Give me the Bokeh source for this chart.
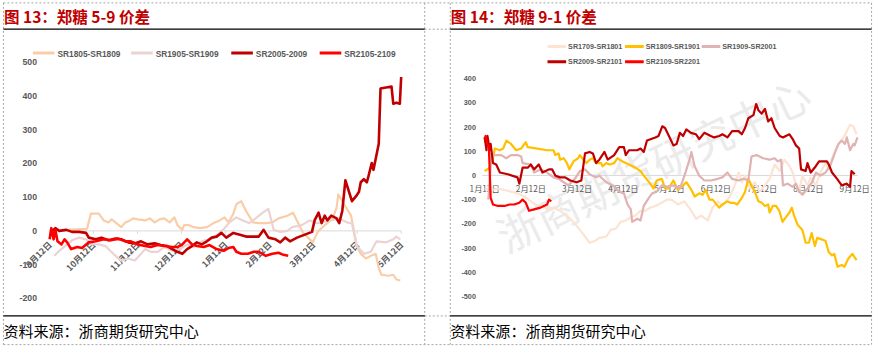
import math
from bokeh.plotting import figure
from bokeh.models import Range1d
from bokeh.embed import file_html
from bokeh.resources import INLINE
from bokeh.core.properties import value

# ---------------- texts ----------------
left_title = "图 13：郑糖 5-9 价差"
right_title = "图 14：郑糖 9-1 价差"
source_text = "资料来源：浙商期货研究中心"
watermark_text = "浙商期货研究中心"

# ---------------- left chart (5-9 spread) ----------------
left_names = ["SR1805-SR1809", "SR1905-SR1909", "SR2005-2009", "SR2105-2109"]
left_colors = ["#F9CDA8", "#EBD3D3", "#C00000", "#FF0000"]
left_x_labels = ["9月12日", "10月12日", "11月12日", "12月12日", "1月12日",
                 "2月12日", "3月12日", "4月12日", "5月12日"]
left_y_ticks = [500, 400, 300, 200, 100, 0, -100, -200]

sr1805_m = [0.33, 0.85, 0.94, 1.12, 1.23, 1.34, 1.41, 1.52, 1.63, 1.72,
            1.83, 1.90, 2.01, 2.17, 2.28, 2.39, 2.50, 2.61, 2.73, 2.84,
            2.91, 3.02, 3.06, 3.17, 3.28, 3.42, 3.58, 3.73, 3.87, 3.98,
            4.07, 4.18, 4.25, 4.36, 4.47, 4.63, 4.76, 4.92, 5.07, 5.21,
            5.41, 5.54, 5.65, 5.77, 5.88, 5.99, 6.10, 6.21, 6.32, 6.44,
            6.53, 6.57, 6.66, 6.75, 6.86, 6.93, 6.99, 7.08, 7.20, 7.31,
            7.42, 7.49, 7.55, 7.71, 7.82, 7.89, 7.98]
sr1805_v = [3, 6, 51, 51, 31, 25, 34, 23, 11, 25,
            31, 37, 34, 31, 37, 25, 34, 37, 25, 40,
            17, 3, 17, 17, 11, 8, 11, 23, 31, 40,
            25, 51, 79, 88, 59, 25, 23, 23, 25, 37,
            45, 54, 25, -6, -20, -34, -3, 11, 23, 37,
            68, 108, 88, 68, 45, -3, -45, -68, -82, -74,
            -68, -110, -130, -133, -130, -144, -147]

sr1905_m = [0.11, 0.22, 0.38, 0.51, 0.67, 0.83, 0.96, 1.12, 1.27, 1.45,
            1.63, 1.79, 1.94, 2.06, 2.17, 2.30, 2.46, 2.61, 2.79, 2.97,
            3.13, 3.28, 3.46, 3.62, 3.80, 3.98, 4.09, 4.25, 4.40, 4.54,
            4.69, 4.85, 4.98, 5.10, 5.25, 5.41, 5.52, 5.63, 5.74, 5.92,
            6.08, 6.19, 6.41, 6.59, 6.77, 6.88, 6.99, 7.15, 7.31, 7.44,
            7.66, 7.82, 7.89, 7.98]
sr1905_v = [-74, -59, -42, -28, -20, -25, -40, -40, -45, -68,
            -88, -82, -88, -71, -54, -62, -62, -48, -59, -54,
            -40, -48, -31, -25, -14, 8, 25, 40, 31, 23,
            37, 54, 65, 3, -3, 0, 11, 14, 17, 31,
            23, 25, 31, 37, 25, 22, -45, -68, -62, -31,
            -34, -25, -17, -25]

sr2005_m = [0.04, 0.13, 0.22, 0.38, 0.51, 0.67, 0.83, 0.89, 1.05, 1.18,
            1.34, 1.50, 1.63, 1.79, 1.94, 2.08, 2.23, 2.39, 2.53, 2.68,
            2.79, 2.91, 3.02, 3.13, 3.24, 3.35, 3.46, 3.58, 3.69, 3.80,
            3.91, 4.02, 4.18, 4.31, 4.47, 4.63, 4.76, 4.87, 4.98, 5.14,
            5.25, 5.36, 5.47, 5.63, 5.81, 5.97, 6.03, 6.12, 6.19, 6.26,
            6.32, 6.41, 6.53, 6.59, 6.66, 6.73, 6.88, 6.97, 7.04, 7.08,
            7.15, 7.22, 7.26, 7.33, 7.37, 7.49, 7.53, 7.78, 7.82, 7.89,
            7.97, 8.00]
sr2005_v = [-3, 8, 0, 3, -3, -3, -6, -20, -25, -20,
            -28, -23, -25, -34, -37, -31, -40, -37, -42, -45,
            -54, -62, -68, -54, -45, -34, -40, -31, -20, -17,
            -6, -20, -6, -11, -17, -17, -17, 3, -20, -25,
            -34, -20, -31, -20, -11, -3, 31, 54, 23, 45,
            31, 45, 37, 23, 59, 150, 88, 102, 116, 144,
            153, 144, 164, 201, 181, 258, 422, 428, 377, 380,
            377, 456]

sr2105_m = [0.00, 0.04, 0.09, 0.13, 0.18, 0.27, 0.34, 0.40, 0.49, 0.63,
            0.74, 0.89, 1.05, 1.23, 1.39, 1.56, 1.72, 1.85, 2.01, 2.17,
            2.30, 2.46, 2.61, 2.79, 2.91, 3.02, 3.13, 3.24, 3.35, 3.51,
            3.64, 3.80, 3.96, 4.07, 4.18, 4.25, 4.36, 4.51, 4.65, 4.76,
            4.92, 5.07, 5.21, 5.32, 5.43]
sr2105_v = [-25, 8, -25, 3, -31, -40, -25, -34, -54, -48,
            -51, -34, -31, -25, -28, -23, -31, -31, -40, -45,
            -48, -42, -45, -48, -48, -40, -25, -40, -45, -48,
            -42, -54, -59, -51, -48, -62, -68, -68, -62, -62,
            -74, -68, -65, -71, -74]

# ---------------- right chart (9-1 spread) ----------------
right_names = ["SR1709-SR1801", "SR1809-SR1901", "SR1909-SR2001",
               "SR2009-SR2101", "SR2109-SR2201"]
right_colors = ["#FCE3D3", "#FFC000", "#E0B2B2", "#C00000", "#FF0000"]
right_x_labels = ["1月12日", "2月12日", "3月12日", "4月12日", "5月12日",
                  "6月12日", "7月12日", "8月12日", "9月12日"]
right_y_ticks = [400, 300, 200, 100, 0, -100, -200, -300, -400, -500]

sr1709_m = [0.00, 0.15, 0.29, 0.43, 0.57, 0.71, 0.86, 1.00, 1.14, 1.25,
            1.35, 1.49, 1.63, 1.78, 1.92, 2.06, 2.17, 2.27, 2.38, 2.48,
            2.63, 2.73, 2.84, 2.94, 3.05, 3.16, 3.26, 3.37, 3.47, 3.58,
            3.69, 3.83, 3.94, 4.04, 4.18, 4.32, 4.47, 4.57, 4.68, 4.82,
            4.93, 5.04, 5.14, 5.21, 5.28, 5.35, 5.42, 5.49, 5.56, 5.63,
            5.74, 5.84, 5.95, 6.06, 6.16, 6.27, 6.38, 6.48, 6.59, 6.66,
            6.73, 6.80, 6.87, 6.98, 7.05, 7.16, 7.26, 7.37, 7.44, 7.51,
            7.61, 7.68, 7.76, 7.83, 7.90, 7.97, 8.04]
sr1709_v = [-54, -60, -54, -60, -67, -74, -87, -107, -126, -120,
            -140, -133, -146, -166, -192, -225, -252, -278, -271, -258,
            -252, -225, -219, -192, -186, -173, -166, -146, -146, -133,
            -126, -113, -100, -100, -120, -107, -146, -179, -166, -186,
            -133, -107, -126, -107, -93, -67, -34, 12, -28, -1,
            -54, -28, -67, -41, -14, 45, 18, 65, 38, 12,
            -41, -67, -1, -41, -8, -41, 12, 51, 25, 71,
            117, 137, 157, 183, 209, 203, 170]

sr1809_m = [0.00, 0.11, 0.18, 0.22, 0.33, 0.40, 0.47, 0.57, 0.68, 0.79,
            0.86, 0.89, 0.93, 1.14, 1.35, 1.49, 1.53, 1.60, 1.63, 1.71,
            1.78, 1.83, 1.92, 2.02, 2.06, 2.13, 2.20, 2.27, 2.34, 2.41,
            2.52, 2.55, 2.63, 2.70, 2.80, 2.87, 2.98, 3.12, 3.26, 3.37,
            3.47, 3.58, 3.65, 3.72, 3.83, 3.90, 3.97, 4.08, 4.18, 4.29,
            4.36, 4.47, 4.54, 4.64, 4.71, 4.78, 4.86, 4.93, 5.07, 5.14,
            5.25, 5.31, 5.39, 5.46, 5.56, 5.63, 5.70, 5.78, 5.84, 5.92,
            5.99, 6.06, 6.13, 6.16, 6.23, 6.30, 6.37, 6.44, 6.51, 6.59,
            6.64, 6.69, 6.77, 6.87, 6.94, 7.01, 7.07, 7.14, 7.19, 7.30,
            7.37, 7.44, 7.51, 7.56, 7.63, 7.72, 7.78, 7.86, 7.95, 8.04]
sr1809_v = [18, 32, 71, 111, 104, 111, 144, 130, 104, 111,
            130, 137, 117, 111, 104, 104, 84, 91, 65, 71,
            51, 25, 58, 71, 84, 65, 51, 65, 71, 51,
            51, 38, 51, 45, 51, 71, 58, 45, 32, 18,
            -8, -34, -54, -21, -14, -54, -54, -21, -60, -41,
            -28, -60, -87, -74, -80, -60, -100, -100, -133, -120,
            -107, -113, -113, -120, -93, -67, -14, -47, -67, -107,
            -113, -126, -120, -153, -126, -126, -146, -192, -173, -153,
            -133, -166, -205, -225, -278, -278, -238, -291, -258, -265,
            -271, -317, -330, -324, -377, -370, -377, -344, -324, -350]

sr1909_m = [0.08, 0.15, 0.22, 0.36, 0.47, 0.57, 0.71, 0.79, 0.82, 1.00,
            1.07, 1.21, 1.35, 1.49, 1.60, 1.71, 1.81, 1.95, 2.06, 2.17,
            2.27, 2.41, 2.48, 2.63, 2.77, 2.91, 3.01, 3.09, 3.16, 3.19,
            3.30, 3.37, 3.44, 3.55, 3.62, 3.72, 3.83, 3.94, 4.08, 4.22,
            4.32, 4.43, 4.47, 4.54, 4.64, 4.75, 4.89, 5.04, 5.14, 5.25,
            5.35, 5.49, 5.60, 5.70, 5.77, 5.88, 6.02, 6.16, 6.27, 6.34,
            6.41, 6.45, 6.55, 6.66, 6.73, 6.80, 6.87, 6.98, 7.08, 7.16,
            7.26, 7.37, 7.48, 7.58, 7.65, 7.72, 7.79, 7.83, 7.90, 7.97,
            8.00, 8.06]
sr1909_v = [-100, 91, 84, 84, 71, 84, 84, 78, 51, 45,
            12, 25, 12, -8, -14, -28, -41, -14, 18, 25,
            5, -8, -1, -28, -41, -67, -74, -120, -140, -192,
            -179, -186, -126, -93, -74, -67, -41, -47, -41, -54,
            -1, 65, 97, 38, -1, -21, -21, -14, -8, 12,
            -14, -21, -14, -21, 78, 84, 71, 65, 71, 58,
            65, -41, -34, -47, -34, -67, -80, -54, -28, 12,
            -1, 12, 45, 97, 130, 144, 130, 157, 104, 130,
            124, 157]

sr2009_m = [0.00, 0.04, 0.06, 0.11, 0.13, 0.18, 0.25, 0.33, 0.50, 0.71,
            0.75, 0.82, 0.93, 1.00, 1.07, 1.17, 1.25, 1.39, 1.46, 1.53,
            1.63, 1.74, 1.85, 1.99, 2.09, 2.17, 2.27, 2.34, 2.41, 2.48,
            2.59, 2.66, 2.80, 2.91, 3.01, 3.05, 3.12, 3.30, 3.37, 3.44,
            3.51, 3.69, 3.76, 3.84, 3.90, 4.00, 4.08, 4.15, 4.22, 4.29,
            4.36, 4.46, 4.57, 4.64, 4.75, 4.89, 4.96, 5.07, 5.14, 5.25,
            5.35, 5.49, 5.56, 5.63, 5.70, 5.81, 5.87, 5.92, 5.99, 6.06,
            6.13, 6.20, 6.27, 6.38, 6.45, 6.51, 6.59, 6.66, 6.73, 6.80,
            6.84, 6.94, 6.98, 7.05, 7.16, 7.23, 7.40, 7.44, 7.51, 7.62,
            7.72, 7.83, 7.90, 7.93, 8.00]
sr2009_v = [157, 104, 163, 104, 130, 51, 45, 12, 5, -8,
            -34, 32, 32, 45, 25, 45, 12, 25, 25, -1,
            -8, -8, -21, -28, -21, 91, 97, 91, 51, 65,
            97, 65, 84, 117, 117, 84, 104, 104, 111, 97,
            144, 157, 163, 203, 196, 157, 124, 130, 176, 163,
            190, 176, 170, 150, 176, 163, 157, 163, 170, 157,
            183, 183, 170, 196, 236, 249, 295, 269, 255, 275,
            223, 236, 196, 163, 157, 163, 170, 150, 124, 111,
            25, 18, 51, 12, 38, 58, 58, 45, 12, -14,
            -41, -34, -47, 18, 5]

sr2109_m = [0.00, 0.02, 0.06, 0.09, 0.13, 0.18, 0.29, 0.43, 0.54, 0.64,
            0.75, 0.82, 0.89, 0.96, 1.07, 1.21, 1.28, 1.35, 1.39, 1.44]
sr2109_v = [150, 163, 130, 124, -93, -120, -126, -126, -120, -120,
            -113, -100, -113, -146, -140, -133, -126, -120, -100, -107]

left_series = [(sr1805_m, sr1805_v), (sr1905_m, sr1905_v),
               (sr2005_m, sr2005_v), (sr2105_m, sr2105_v)]
right_series = [(sr1709_m, sr1709_v), (sr1809_m, sr1809_v), (sr1909_m, sr1909_v),
                (sr2009_m, sr2009_v), (sr2109_m, sr2109_v)]

# ---------------- layout ----------------
# Canvas fits the window; the layout is expressed in a 891x363 design space
# which Bokeh's scales map onto the canvas.
W, H = 875, 347
RW, RH = 891, 363
FS = 0.97   # font / pixel scale of the canvas relative to design space


def px(n):
    return "%.2fpx" % (n * FS)


# left plot: month 0 at x=50, 44.75 per month; value 0 at y=241, 0.353 per unit
L_X0, L_DX, L_Y0, L_DY = 50, 44.75, 241, 0.353
# right plot
R_X0, R_DX, R_Y0, R_DY = 493, 47.1, 183, 0.2533

CJK = value("Noto Sans CJK SC")
LAT = value("Liberation Sans")
GRAY = "#595959"

p = figure(width=W, height=H, x_range=Range1d(0, RW), y_range=Range1d(RH, 0),
           x_axis_location=None, y_axis_location=None,
           toolbar_location=None, output_backend="svg", min_border=0)
p.grid.grid_line_color = None
p.outline_line_color = None
p.background_fill_color = "white"
p.border_fill_color = "white"

p.extra_x_ranges = {
    "lx": Range1d(-L_X0 / L_DX, (RW - L_X0) / L_DX),
    "rx": Range1d(-R_X0 / R_DX, (RW - R_X0) / R_DX),
}
p.extra_y_ranges = {
    "ly": Range1d((L_Y0 - RH) / L_DY, L_Y0 / L_DY),
    "ry": Range1d((R_Y0 - RH) / R_DY, R_Y0 / R_DY),
}

# ---------------- frame decorations ----------------
dash = dict(line_color="#A6A6A6", line_width=1, line_dash="2 2")
p.segment(x0=[3, 432, 458, 887], y0=[2.5] * 4,
          x1=[3, 432, 458, 887], y1=[360] * 4, **dash)
p.segment(x0=[3, 432, 432, 3], y0=[2.5, 30, 330, 360],
          x1=[887, 458, 458, 887], y1=[2.5, 30, 330, 360], **dash)
p.segment(x0=[3, 458, 3, 458], y0=[30, 30, 330, 330],
          x1=[432, 887, 432, 887], y1=[30, 30, 330, 330],
          line_color="black", line_width=1.3)

p.text(x=[3.5, 458.5], y=[16.5, 16.5], text=[left_title, right_title],
       text_font=CJK, text_font_size=px(16), text_font_style="bold",
       text_color="#C00000", text_align="left", text_baseline="middle")
p.text(x=[3, 458], y=[345, 345], text=[source_text, source_text],
       text_font=CJK, text_font_size=px(15.5), text_color="black",
       text_align="left", text_baseline="middle")

# watermark (right panel)
p.text(x=[664], y=[170], text=[watermark_text], angle=math.radians(25.6),
       text_font=CJK, text_font_size=px(44), text_color="#EBEBEB",
       text_align="center", text_baseline="middle")

# ---------------- left chart ----------------
n_l = len(left_x_labels)
p.segment(x0=[-0.02], y0=[0], x1=[n_l - 1], y1=[0], line_color="#D9D9D9",
          line_width=1, x_range_name="lx", y_range_name="ly")
p.segment(x0=list(range(n_l)), y0=[0] * n_l, x1=list(range(n_l)),
          y1=[-3 / L_DY] * n_l, line_color="#D9D9D9", line_width=1,
          x_range_name="lx", y_range_name="ly")
p.text(x=[0] * len(left_y_ticks), y=left_y_ticks, text=[str(t) for t in left_y_ticks],
       x_offset=-13 * FS, text_font=LAT, text_font_size=px(9), text_font_style="bold",
       text_color=GRAY, text_align="right", text_baseline="middle",
       x_range_name="lx", y_range_name="ly")
p.text(x=list(range(n_l)), y=[0] * n_l, text=left_x_labels, angle=math.pi / 4,
       x_offset=0, y_offset=12 * FS, text_font=CJK, text_font_size=px(8.8),
       text_font_style="bold", text_color=GRAY, text_align="right",
       text_baseline="middle", x_range_name="lx", y_range_name="ly")

left_widths = [2.2, 2.2, 2.6, 2.6]
for (m, v), c, lw in zip(left_series, left_colors, left_widths):
    p.line(x=m, y=v, line_color=c, line_width=lw, line_join="round",
           x_range_name="lx", y_range_name="ly")

# left legend
left_leg_x = [33, 133, 235, 325]
for name, c, lx in zip(left_names, left_colors, left_leg_x):
    p.segment(x0=[lx], y0=[55], x1=[lx + 22], y1=[55], line_color=c, line_width=3)
    p.text(x=[lx + 25], y=[55.5], text=[name], text_font=LAT,
           text_font_size=px(8.6), text_font_style="bold", text_color=GRAY,
           text_align="left", text_baseline="middle")

# ---------------- right chart ----------------
n_r = len(right_x_labels)
p.segment(x0=[-0.05], y0=[0], x1=[8.07], y1=[0], line_color="#D9D9D9",
          line_width=1, x_range_name="rx", y_range_name="ry")
p.text(x=[0] * len(right_y_ticks), y=right_y_ticks, text=[str(t) for t in right_y_ticks],
       x_offset=-9 * FS, text_font=LAT, text_font_size=px(7.5), text_font_style="bold",
       text_color=GRAY, text_align="right", text_baseline="middle",
       x_range_name="rx", y_range_name="ry")
p.text(x=list(range(n_r)), y=[0] * n_r, text=right_x_labels, y_offset=13 * FS,
       text_font=CJK, text_font_size=px(8.5), text_color=GRAY,
       text_align="center", text_baseline="middle",
       x_range_name="rx", y_range_name="ry")

for (m, v), c in zip(right_series, right_colors):
    p.line(x=m, y=v, line_color=c, line_width=2.2, line_join="round",
           x_range_name="rx", y_range_name="ry")

# right legend (two rows)
right_leg_pos = [(557, 48), (636, 48), (714, 48), (557, 64), (636, 64)]
for name, c, (lx, ly) in zip(right_names, right_colors, right_leg_pos):
    p.segment(x0=[lx], y0=[ly], x1=[lx + 19], y1=[ly], line_color=c, line_width=3)
    p.text(x=[lx + 21], y=[ly + 0.5], text=[name], text_font=LAT,
           text_font_size=px(7.4), text_font_style="bold", text_color=GRAY,
           text_align="left", text_baseline="middle")

open("out.html", "w").write(file_html(p, INLINE))
